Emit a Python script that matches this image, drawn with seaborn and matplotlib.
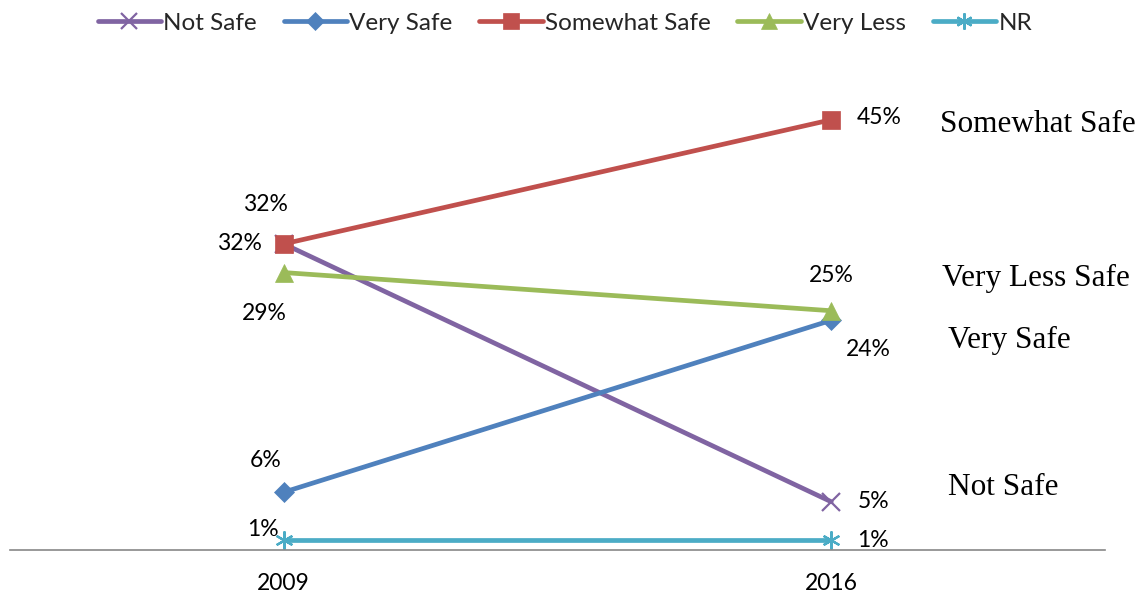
import matplotlib.pyplot as plt
import pandas as pd
import seaborn as sns

# Survey shares, 2009 vs 2016
years = ["2009", "2016"]
categories = ["Not Safe", "Very Safe", "Somewhat Safe", "Very Less", "NR"]
not_safe = [32, 5]
very_safe = [6, 24]
somewhat_safe = [32, 45]
very_less = [29, 25]
no_response = [1, 1]

side_labels = ["Somewhat Safe", "Very Less Safe", "Very Safe", "Not Safe"]
side_label_y = [44.5, 28.4, 21.9, 6.5]
side_label_x = [1.199, 1.202, 1.213, 1.213]

colors = ["#8064A2", "#4F81BD", "#C0504D", "#9BBB59", "#4BACC6"]
markers = ["x", "D", "s", "^", (6, 2, 0)]
msizes = [13, 10, 13, 13, 13]

values = [not_safe, very_safe, somewhat_safe, very_less, no_response]
df = pd.DataFrame(
    [(c, y, v[i]) for c, v in zip(categories, values) for i, y in enumerate(years)],
    columns=["Category", "Year", "Share"],
)

sns.set_theme(style="white")
plt.rcParams["font.family"] = ["Lato", "DejaVu Sans"]

fig = plt.figure(figsize=(11.46, 5.93), dpi=100)
ax = fig.add_axes([10 / 1146, 43.5 / 593, 1095 / 1146, 477.5 / 593])

sns.lineplot(
    data=df,
    x="Year",
    y="Share",
    hue="Category",
    hue_order=categories,
    palette=colors,
    linewidth=3.4,
    legend=False,
    ax=ax,
)

# markers drawn per series so each can have its own size
for line, m, ms, col in zip(ax.lines, markers, msizes, colors):
    line.set_marker(m)
    line.set_markersize(ms)
    line.set_markeredgecolor(col)
    line.set_markerfacecolor(col)
    line.set_markeredgewidth(1.6 if m in ("x",) or isinstance(m, tuple) else 0.5)

ax.set_xlim(-0.5, 1.5)
ax.set_ylim(0, 50)
ax.set_xlabel("")
ax.set_ylabel("")
ax.set_yticks([])
for s in ["top", "left", "right"]:
    ax.spines[s].set_visible(False)
ax.spines["bottom"].set_color("#878787")
ax.spines["bottom"].set_linewidth(1.2)
ax.tick_params(axis="x", length=0, pad=17, labelsize=16.5, colors="#000000")

# data labels: offsets in pixels from each point
offsets = {
    "Not Safe": [(-44, 0), (42, 0)],
    "Very Safe": [(-18, 32), (37, -29)],
    "Somewhat Safe": [(-18, 39), (48, 2)],
    "Very Less": [(-19, -41), (0, 35)],
    "NR": [(-21, 10), (42, -1)],
}
for cat, vals in zip(categories, values):
    for i, v in enumerate(vals):
        ax.annotate(
            f"{v}%",
            xy=(i, v),
            xytext=offsets[cat][i],
            textcoords="offset pixels",
            ha="center",
            va="center",
            fontsize=16.5,
            color="#000000",
        )

for txt, x, y in zip(side_labels, side_label_x, side_label_y):
    ax.text(
        x, y, txt, ha="left", va="center", fontsize=22.5,
        family="Liberation Serif", color="#000000", clip_on=False,
    )

handles = [
    plt.Line2D([], [], color=c, lw=3.4, marker=m, markersize=ms * 0.9,
               markeredgecolor=c, markerfacecolor=c,
               markeredgewidth=1.6 if (m == "x" or isinstance(m, tuple)) else 0.5)
    for c, m, ms in zip(colors, markers, msizes)
]
fig.legend(
    handles, categories, loc="center", bbox_to_anchor=(565 / 1146, 1 - 23 / 593),
    ncol=5, frameon=False, fontsize=17.5, handlelength=2.6, handletextpad=0.1,
    columnspacing=1.1, numpoints=1,
)

fig.savefig("out.png", dpi=100)
